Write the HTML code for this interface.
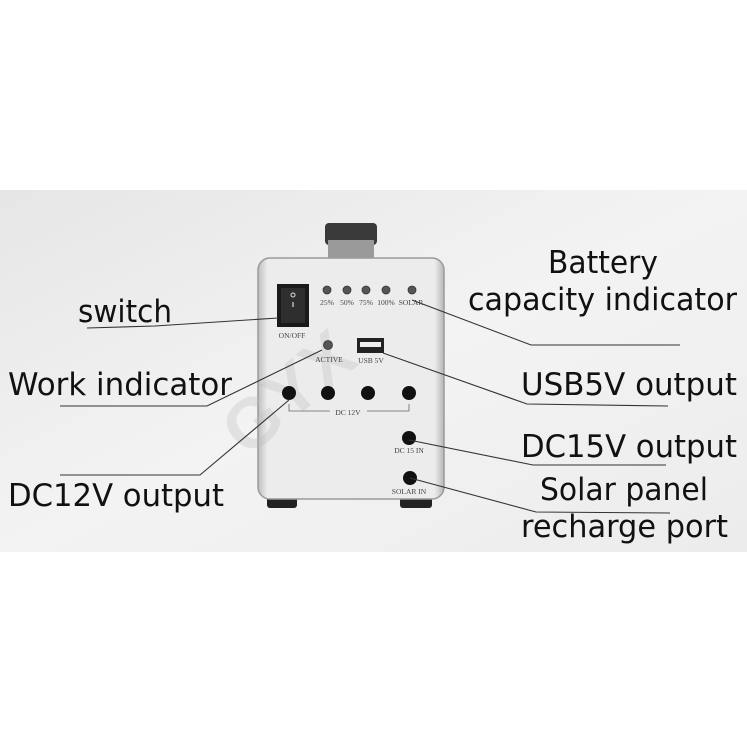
<!DOCTYPE html>
<html><head><style>body{margin:0;background:#fff}svg{display:block}</style></head>
<body>
<svg width="747" height="747" viewBox="0 0 747 747" xmlns="http://www.w3.org/2000/svg">
<defs>
<linearGradient id="bg" x1="0" y1="0" x2="1" y2="1">
<stop offset="0" stop-color="#e6e6e6"/><stop offset="0.5" stop-color="#f3f3f3"/><stop offset="1" stop-color="#ececec"/>
</linearGradient>
<linearGradient id="box" x1="0" y1="0" x2="1" y2="0">
<stop offset="0" stop-color="#bdbdbd"/><stop offset="0.05" stop-color="#ececec"/><stop offset="0.95" stop-color="#ececec"/><stop offset="1" stop-color="#b5b5b5"/>
</linearGradient>
</defs>
<rect width="747" height="747" fill="#fff"/>
<rect x="0" y="190" width="747" height="362" fill="url(#bg)"/>
<rect x="325" y="223" width="52" height="22" rx="4" fill="#3a3a3a"/>
<rect x="328" y="240" width="46" height="20" fill="#9a9a9a"/>
<rect x="267" y="494" width="30" height="14" rx="3" fill="#222"/>
<rect x="400" y="494" width="32" height="14" rx="3" fill="#222"/>
<rect x="258" y="258" width="186" height="241" rx="12" fill="url(#box)" stroke="#9a9a9a" stroke-width="1.5"/>
<rect x="277" y="284" width="32" height="43" fill="#1a1a1a"/>
<rect x="281" y="288" width="24" height="35" fill="#2e2e2e"/>
<circle cx="293" cy="295" r="2" fill="none" stroke="#ddd" stroke-width="1"/>
<line x1="293" y1="302" x2="293" y2="307" stroke="#ddd" stroke-width="1.2"/>
<text x="215" y="430" font-family="Liberation Sans,sans-serif" font-size="70" font-weight="bold" fill="#bbb" opacity="0.3" transform="rotate(-40 270 400)">GYX</text>
<g font-family="Liberation Serif,serif" font-size="7.5" fill="#444" text-anchor="middle">
<text x="292" y="338">ON/OFF</text>
<text x="327" y="305">25%</text><text x="347" y="305">50%</text><text x="366" y="305">75%</text><text x="386" y="305">100%</text><text x="411" y="305">SOLAR</text>
<text x="329" y="362">ACTIVE</text><text x="371" y="363">USB 5V</text>
<text x="348" y="415">DC 12V</text>
<text x="409" y="453">DC 15 IN</text><text x="409" y="494">SOLAR IN</text>
</g>
<g fill="#555" stroke="#333" stroke-width="0.8">
<circle cx="327" cy="290" r="4"/><circle cx="347" cy="290" r="4"/><circle cx="366" cy="290" r="4"/><circle cx="386" cy="290" r="4"/><circle cx="412" cy="290" r="4"/>
<circle cx="328" cy="345" r="4.5"/>
</g>
<rect x="357" y="338" width="27" height="15" fill="#222"/><rect x="360" y="342" width="21" height="5" fill="#eee"/>
<g fill="#111">
<circle cx="289" cy="393" r="7"/><circle cx="328" cy="393" r="7"/><circle cx="368" cy="393" r="7"/><circle cx="409" cy="393" r="7"/>
<circle cx="409" cy="438" r="7"/><circle cx="410" cy="478" r="7"/>
</g>
<polyline points="289,404 289,411 330,411" fill="none" stroke="#666" stroke-width="0.8"/>
<polyline points="367,411 409,411 409,404" fill="none" stroke="#666" stroke-width="0.8"/>
<g fill="none" stroke="#333" stroke-width="1.1">
<polyline points="87,328 155,326 278,318"/>
<polyline points="60,406 207,406 322,350"/>
<polyline points="60,475 200,475 289,400"/>
<polyline points="412,300 531,345 680,345"/>
<polyline points="383,353 527,404 668,406"/>
<polyline points="409,440 533,465 666,465"/>
<polyline points="410,478 536,512 670,513"/>
</g>
<g font-family="DejaVu Sans,Liberation Sans,sans-serif" font-size="31" fill="#111">
<text x="78" y="322" textLength="94" lengthAdjust="spacingAndGlyphs">switch</text>
<text x="8" y="395" textLength="224" lengthAdjust="spacingAndGlyphs">Work indicator</text>
<text x="8" y="506" textLength="216" lengthAdjust="spacingAndGlyphs">DC12V output</text>
<text x="548" y="273" textLength="110" lengthAdjust="spacingAndGlyphs">Battery</text>
<text x="468" y="310" textLength="269" lengthAdjust="spacingAndGlyphs">capacity indicator</text>
<text x="521" y="395" textLength="216" lengthAdjust="spacingAndGlyphs">USB5V output</text>
<text x="521" y="457" textLength="216" lengthAdjust="spacingAndGlyphs">DC15V output</text>
<text x="540" y="500" textLength="168" lengthAdjust="spacingAndGlyphs">Solar panel</text>
<text x="521" y="537" textLength="207" lengthAdjust="spacingAndGlyphs">recharge port</text>
</g>
</svg>
</body></html>
